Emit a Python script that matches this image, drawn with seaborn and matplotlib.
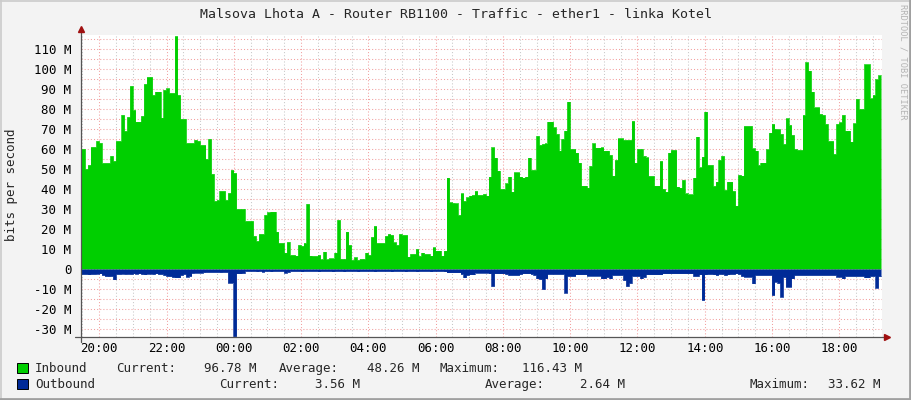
import numpy as np
import matplotlib
matplotlib.use("Agg")
import matplotlib.pyplot as plt
from matplotlib.lines import Line2D
from matplotlib.patches import Rectangle
from matplotlib.ticker import MultipleLocator
import seaborn as sns

title = "Malsova Lhota A - Router RB1100 - Traffic - ether1 - linka Kotel"
ylabel = "bits per second"
watermark = "RRDTOOL / TOBI OETIKER"

# 5 minute samples, time in hours relative to 20:00 (first sample at ~19:24)
first_sample = -0.594
sample_step = 5 / 60

# traffic in Mbit/s
inbound = np.array([
    # 19:24 - 22:30
    60, 60, 50, 52, 61, 61, 64, 63, 53, 53, 53, 56.5, 54, 64, 64, 77, 69, 76, 91.5, 79.5,
    73.7, 73.7, 76.5, 92.5, 96, 96, 87, 88.7, 88.7, 75.7, 89.5, 90.3, 88, 88, 116.43, 87, 75, 75,
    # 22:30 - 01:30
    63, 63, 63, 64.5, 64, 62, 62, 55, 65, 47.5, 34, 34.5, 39, 39, 34.5, 38, 49.5, 48,
    30, 30, 30, 24, 24, 24, 16.5, 14, 17.5, 17.5, 27, 28.3, 28.7, 28.7, 18.7, 13, 13,
    # 01:30 - 04:30
    8.2, 13.5, 7, 7, 6.7, 12, 11.5, 13, 32.5, 6.7, 6.5, 6.5, 7, 4.8, 8.7, 4.8, 5.3, 5.3,
    8.2, 24.5, 5, 5, 18.7, 12, 4.5, 5.8, 4.5, 5, 5, 8.2, 7, 16, 21.5, 13, 13, 13,
    # 04:30 - 07:30
    16.5, 17.5, 17, 13.3, 12, 17.5, 17, 17, 6.2, 7.5, 7.5, 10, 6.5, 8.2, 7.5, 7.5, 6.7, 10.8,
    9.2, 9.2, 6.7, 9.2, 45.7, 33.3, 33, 32.8, 27, 37.8, 34, 35.8, 36.7, 37, 39, 37, 37, 37.5,
    # 07:30 - 10:30
    36.7, 46.2, 60.8, 55.7, 49.2, 40, 40, 42.8, 46.2, 38.7, 48.3, 48.3, 46.2, 45.7, 46.2, 55.7,
    49.5, 49.5, 66.5, 62, 62.5, 62.8, 73.7, 73.7, 70.8, 67.5, 59.2, 65, 69.2, 83.7, 60, 60,
    58.2, 53.2, 41.7, 41.7,
    # 10:30 - 13:30
    40.7, 51.5, 62.8, 60.7, 60.7, 60.8, 59.2, 59.2, 57, 46.7, 54.5, 65.3, 65.3, 64.5, 64.5,
    64.5, 74, 53.2, 60, 60, 56.5, 55.8, 46.5, 46.5, 41.7, 41.7, 54, 40, 38.7, 58.2, 59.5,
    59.5, 41.2, 40.7, 44.5, 37.8,
    # 13:30 - 16:30
    37.3, 37.3, 45.7, 66.2, 50.8, 56.2, 78.7, 52, 52, 41.5, 43.7, 54.5, 56.5, 39.5, 43.7,
    43.7, 39, 31.7, 47, 46.7, 71.5, 71.5, 71.5, 60.3, 59.2, 52, 53.2, 53.2, 59.8, 68.2, 72.5,
    70, 69.8, 67.5, 62.5,
    # 16:30 - 19:15
    75.3, 72, 67, 60, 59.5, 59.5, 77, 103.3, 99.2, 88.7, 80.8, 80.8, 77.5, 77, 72.5, 64, 64,
    57.5, 72.5, 73.3, 77, 69.2, 69.2, 63.7, 72.8, 85, 80, 80, 102.3, 102.3, 85.3, 87, 94.8, 96.78,
])

outbound = np.array([
    # 19:24 - 22:30
    2.5, 2.5, 2.5, 2.7, 2.5, 2.5, 2.3, 2.2, 3, 3.5, 3.6, 3.5, 5.2, 2.5, 2.5, 2.3, 2.5, 2.4, 2.5,
    2.2, 2.3, 2.2, 2.5, 2.7, 2.3, 2.3, 2.5, 2.2, 2.5, 2.5, 3, 3.5, 3.6, 4, 4.2, 4.2, 3, 2.5,
    # 22:30 - 01:30
    3.8, 3.5, 2, 1.8, 1.8, 1.8, 1.6, 1.5, 1.5, 1.5, 1.5, 1.5, 1.6, 1.5, 1.5, 6.8, 6.8, 33.62,
    2.2, 2.2, 2, 1, 1, 1, 1, 1.2, 1, 1.3, 1, 1, 1.2, 1, 1, 1, 1,
    # 01:30 - 04:30
    1.8, 1.5, 1, 1, 1, 1, 1.2, 1, 1, 1, 1, 1, 1.2, 1, 1, 1, 1, 1.2,
    1, 1, 1, 1.2, 1, 1, 1, 1, 1.2, 1, 1, 1, 1, 1, 1.2, 1, 1, 1,
    # 04:30 - 07:30
    1, 1, 1.2, 1, 1, 1, 1, 1.2, 1, 1, 1, 1.2, 1, 1, 1, 1, 1.2, 1, 1, 1, 1,
    1.2, 1.7, 1.7, 1.7, 1.7, 1.7, 2.5, 4.2, 3, 2.7, 2.7, 1.8, 1.8, 1.8, 1.8,
    # 07:30 - 10:30
    1.8, 2.2, 8.5, 2.2, 2.2, 2.2, 2.2, 2.5, 3, 3, 3, 3, 2.5, 2.2, 2.2, 2.2, 2.5, 3,
    4.7, 5, 10, 4.7, 2.5, 2.5, 2.5, 2.5, 2.5, 2.5, 11.8, 3.5, 3.5, 3.5, 2.7, 2.7, 2.7, 2.7,
    # 10:30 - 13:30
    3.3, 3.3, 3.3, 3.3, 3.3, 4.7, 4.7, 4, 4.7, 3, 3, 3, 3, 5.5, 8.5, 7, 3.5, 3.5,
    3.5, 4.7, 4, 2.7, 2.7, 2.7, 2.7, 2.7, 2.7, 2.2, 2.2, 2.2, 2.2, 2.2, 2.2, 2.2, 2.2, 2.2,
    # 13:30 - 16:30
    2.2, 2.2, 3.5, 3.5, 2.7, 15.5, 2.7, 2.5, 2.5, 2.7, 3, 2.5, 2.5, 3, 2.7, 2.5, 2.5, 2.2,
    2.5, 3.5, 3.8, 3.8, 3.8, 7.2, 3, 3, 3, 3, 3, 3, 13, 6.3, 7, 13.8, 4,
    # 16:30 - 19:15
    8.8, 8.8, 4.7,
    3, 3, 3, 3, 3,
    3, 3, 3, 3, 3,
    3, 3, 3, 3, 3,
    3.8, 3.8, 4.7, 3.5, 3.5, 3.5, 3.5, 3.5, 3.5, 3.5, 4.2, 4.2, 3.5, 3.5, 9.3, 3.56,
])

hour_ticks = np.arange(0, 24, 2)
hour_labels = ["20:00", "22:00", "00:00", "02:00", "04:00", "06:00",
               "08:00", "10:00", "12:00", "14:00", "16:00", "18:00"]
mbit_ticks = np.arange(-30, 111, 10)
mbit_labels = [f"{v} M" if v else "0" for v in mbit_ticks]

series_names = ["Inbound", "Outbound"]
series_colors = ["#00CF00", "#002A97"]
stat_names = ["Current:", "Average:", "Maximum:"]
inbound_stats = ["96.78 M", "48.26 M", "116.43 M"]
outbound_stats = ["3.56 M", "2.64 M", "33.62 M"]

sns.set_theme(style="white")
plt.rcParams["font.family"] = ["DejaVu Sans Mono"]
plt.rcParams["font.size"] = 9

W, H = 911, 400
fig = plt.figure(figsize=(W / 100, H / 100), dpi=100, facecolor="#F3F3F3")


def fx(px):
    return px / W


def fy(py):
    return 1 - py / H


ax = fig.add_axes([fx(80.7), fy(336.5), fx(881.7) - fx(80.7), fy(35) - fy(336.5)])
ax.set_facecolor("white")

edges = first_sample + sample_step * np.arange(len(inbound) + 1)
y_in = np.append(inbound, inbound[-1])
y_out = -np.append(outbound, outbound[-1])

ax.fill_between(edges, 0, y_in, step="post", color=series_colors[0], lw=0, zorder=2)
ax.fill_between(edges, 0, y_out, step="post", color=series_colors[1], lw=0, zorder=2)
sns.lineplot(x=edges, y=y_in, drawstyle="steps-post", color=series_colors[0], lw=0.5, ax=ax, zorder=2)
sns.lineplot(x=edges, y=y_out, drawstyle="steps-post", color=series_colors[1], lw=0.5, ax=ax, zorder=2)

ax.set_xlim(-0.553, 23.26)
ax.set_ylim(-33.75, 117)

ax.set_xticks(hour_ticks)
ax.set_xticklabels(hour_labels)
ax.xaxis.set_minor_locator(MultipleLocator(0.5))
ax.set_yticks(mbit_ticks)
ax.set_yticklabels(mbit_labels)
ax.yaxis.set_minor_locator(MultipleLocator(5))

dots = (0, (1, 2))
ax.grid(which="major", axis="x", color="#F2A0A0", ls=dots, lw=0.75)
ax.grid(which="minor", axis="x", color="#C8C8C8", ls=dots, lw=0.75)
ax.grid(which="both", axis="y", color="#F2A0A0", ls=dots, lw=0.75)
ax.set_axisbelow(True)

for s in ax.spines.values():
    s.set_visible(False)
ax.tick_params(axis="both", which="both", direction="inout", length=4, width=0.8,
               color="#606060", labelcolor="black", labelsize=9)
ax.tick_params(axis="both", which="minor", length=3)
ax.tick_params(axis="y", pad=4.8)
ax.tick_params(axis="x", pad=2)
ax.set_xlabel("")
ax.set_ylabel("")

# axis lines with arrows
ax.plot([0, 0], [-5 / 301.5, 1 + 3 / 301.5], transform=ax.transAxes, color="#555555",
        lw=0.9, clip_on=False, zorder=3)
ax.plot([-6 / 801, 1 + 3 / 801], [0, 0], transform=ax.transAxes, color="#555555",
        lw=0.9, clip_on=False, zorder=3)
ax.plot([0], [1 + 6 / 301.5], marker="^", ms=4.5, color="#A01010", transform=ax.transAxes,
        clip_on=False, zorder=3)
ax.plot([1 + 5 / 801], [0], marker=">", ms=4.5, color="#A01010", transform=ax.transAxes,
        clip_on=False, zorder=3)

fig.text(0.5, fy(14), title, ha="center", va="center", fontsize=9.5)
fig.text(fx(12), fy(185), ylabel, rotation=90, ha="center", va="center", fontsize=9)
fig.text(fx(903), fy(4), watermark, rotation=270, ha="center", va="top",
         fontsize=6.2, color="#B4B4B4")

# legend
row_y = [368.3, 384.3]
stat_x = [[116, 279, 440], [219.3, 485, 750]]
value_x = [[204, 366.7, 521.7], [315, 580, 827.7]]
for r, (name, color, stats) in enumerate(zip(series_names, series_colors,
                                             [inbound_stats, outbound_stats])):
    y = row_y[r]
    fig.add_artist(Rectangle((fx(17.3), fy(y + 5)), 11 / W, 10 / H, transform=fig.transFigure,
                             facecolor=color, edgecolor="black", lw=0.7))
    fig.text(fx(35), fy(y), name, ha="left", va="center", fontsize=9)
    for k in range(3):
        fig.text(fx(stat_x[r][k]), fy(y), stat_names[k], ha="left", va="center", fontsize=9)
        fig.text(fx(value_x[r][k]), fy(y), stats[k], ha="left", va="center", fontsize=9)

# 3d frame of the image
frame_light = "#CBCBCB"
frame_dark = "#A0A0A0"
fig.add_artist(Line2D([0, 1], [fy(0.5), fy(0.5)], transform=fig.transFigure, color=frame_light, lw=1.2))
fig.add_artist(Line2D([fx(0.5), fx(0.5)], [0, 1], transform=fig.transFigure, color=frame_light, lw=1.2))
fig.add_artist(Line2D([0, 1], [fy(398.8), fy(398.8)], transform=fig.transFigure, color=frame_dark, lw=2))
fig.add_artist(Line2D([fx(909.8), fx(909.8)], [0, 1], transform=fig.transFigure, color=frame_dark, lw=2))

fig.savefig("out.png", dpi=100, facecolor=fig.get_facecolor())
